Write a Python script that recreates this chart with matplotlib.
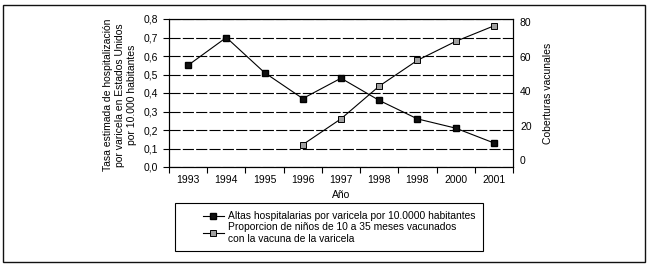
import matplotlib
matplotlib.use("Agg")
import matplotlib.pyplot as plt
from matplotlib.patches import Rectangle
from matplotlib.lines import Line2D

plt.rcParams['font.family'] = ['Liberation Sans', 'DejaVu Sans']
plt.rcParams['font.size'] = 7.5

years = ["1993", "1994", "1995", "1996", "1997", "1998", "1998", "2000", "2001"]
altas = [0.55, 0.70, 0.51, 0.37, 0.48, 0.36, 0.26, 0.21, 0.13]
cobertura = [None, None, None, 9, 24, 43, 58, 69, 78]
label_altas = "Altas hospitalarias por varicela por 10.0000 habitantes"
label_cob = "Proporcion de niños de 10 a 35 meses vacunados\ncon la vacuna de la varicela"

W, H = 649, 266
fig = plt.figure(figsize=(W / 100, H / 100), dpi=100)

def px(x0, y0, x1, y1):
    return [x0 / W, 1 - y1 / H, (x1 - x0) / W, (y1 - y0) / H]

# outer frame
fig.patches.append(Rectangle((3 / W, 1 - 262 / H), 642 / W, 257.5 / H,
                             transform=fig.transFigure, fill=False,
                             edgecolor="#111111", linewidth=1.0))

ax = fig.add_axes(px(169, 19, 513, 167))
x = list(range(len(years)))
ax.plot(x, altas, color="black", linewidth=0.8, marker="s", markersize=4.5,
        markerfacecolor="#111111", markeredgecolor="black", zorder=5)
ax.set_xlim(-0.5, len(years) - 0.5)
ax.set_ylim(0, 0.8)
ax.set_yticks([i / 10 for i in range(9)])
ax.set_yticklabels([("%.1f" % (i / 10)).replace(".", ",") for i in range(9)])
ax.set_xticks([i - 0.5 for i in range(len(years) + 1)])
ax.set_xticklabels([])
ax.set_xticks(x, minor=True)
ax.set_xticklabels(years, minor=True)
ax.tick_params(axis="x", which="minor", length=0, pad=6)
ax.tick_params(axis="x", which="major", length=4, width=0.8, direction="out")
ax.tick_params(axis="y", length=4, width=0.8, direction="out", pad=4)
ax.yaxis.grid(True, color="black", linewidth=0.8, linestyle=(0, (10, 2)))
for s in ax.spines.values():
    s.set_linewidth(0.8)
ax.set_xlabel("Año", labelpad=3)

ax2 = ax.twinx()
xs = [i for i, v in zip(x, cobertura) if v is not None]
vs = [v for v in cobertura if v is not None]
ax2.plot(xs, vs, color="black", linewidth=0.8, marker="s", markersize=4.5,
         markerfacecolor="#a0a0a0", markeredgecolor="black",
         markeredgewidth=0.7, zorder=5)
ax2.set_ylim(-4, 82)
ax2.set_yticks([0, 20, 40, 60, 80])
ax2.tick_params(axis="y", length=0, pad=5)
ax2.set_ylabel("Coberturas vacunales", labelpad=8)
for s in ax2.spines.values():
    s.set_linewidth(0.8)

fig.text(120 / W, 1 - 95 / H,
         "Tasa estimada de hospitalización\npor varicela en Estados Unidos\npor 10.000 habitantes",
         rotation=90, ha="center", va="center", multialignment="center")

# legend box
fig.patches.append(Rectangle((175 / W, 1 - 251 / H), 308 / W, 48 / H,
                             transform=fig.transFigure, fill=False,
                             edgecolor="black", linewidth=0.8))
h1 = Line2D([], [], color="black", linewidth=0.8, marker="s", markersize=4,
            markerfacecolor="#111111", markeredgecolor="black")
h2 = Line2D([], [], color="black", linewidth=0.8, marker="s", markersize=4,
            markerfacecolor="#a0a0a0", markeredgecolor="black", markeredgewidth=0.7)
fig.legend([h1, h2], [label_altas, label_cob], loc="upper left",
           bbox_to_anchor=(198 / W, 1 - 206 / H), frameon=False,
           handlelength=2.0, handletextpad=0.4, borderpad=0, labelspacing=0.1,
           fontsize=7.4)

fig.savefig("out.png", dpi=100)
